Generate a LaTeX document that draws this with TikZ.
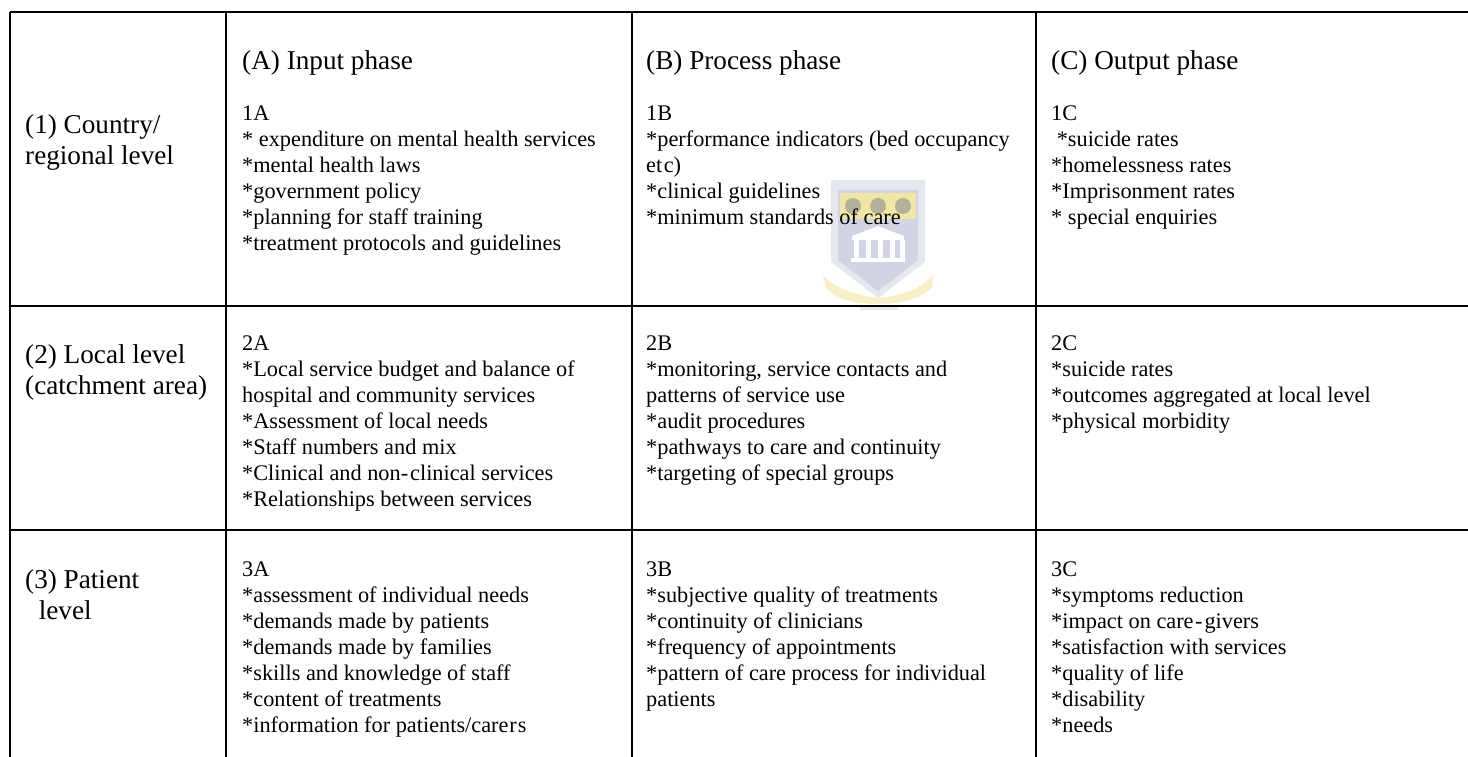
\documentclass[tikz,border=0pt]{standalone}
\usepackage{fontspec}
\setmainfont{Liberation Serif}
\definecolor{crestbody}{HTML}{D2D4E6}
\definecolor{crestedge}{HTML}{E6E8F0}
\definecolor{crestgold}{HTML}{F3E6A0}
\definecolor{crestlion}{HTML}{B5B09A}
\definecolor{crestrib}{HTML}{F8F0C4}
\tikzset{
 hd/.style={anchor=base west,inner sep=0pt,font=\fontsize{27.2}{31}\selectfont},
 lv/.style={anchor=north west,inner sep=0pt,align=left,font=\fontsize{27.2}{31}\selectfont},
 tx/.style={anchor=north west,inner sep=0pt,align=left,font=\fontsize{22.3}{25.9}\selectfont},
 rule/.style={line width=2.2pt,black}
}
\begin{document}
\begin{tikzpicture}[x=1pt,y=-1pt]
\useasboundingbox (0,0) rectangle (1468,757);
\fill[white] (0,0) rectangle (1468,757);
% crest
\fill[crestrib] (823,275) .. controls (835,290) and (860,296) .. (878,298) .. controls (900,296) and (920,290) .. (933,275) -- (932,288) .. controls (915,302) and (895,304) .. (878,304) .. controls (860,304) and (840,302) .. (826,288) -- cycle;
\fill[crestedge] (831,180) -- (925,180) -- (925,262) -- (878,298) -- (831,262) -- cycle;
\fill[crestbody] (838,190) -- (918,190) -- (918,260) -- (878,291) -- (838,260) -- cycle;
\fill[crestgold] (840,193) rectangle (916,219);
\foreach \xx in {853,878,903} \fill[crestlion] (\xx,206) circle (8);
\fill[white] (852,236) -- (878,226) -- (904,236) -- (904,240) -- (852,240) -- cycle;
\fill[white] (851,258) rectangle (905,262);
\foreach \xx in {854,866,878,890,900} \fill[white] (\xx,240) rectangle +(5,18);
\fill[crestedge] (860,306) rectangle (898,310);
% table rules
\coordinate (tl) at (10,12);
\coordinate (tr) at (1468,12);
\coordinate (ml) at (10,306);
\coordinate (mr) at (1468,306);
\coordinate (nl) at (10,530);
\coordinate (nr) at (1468,530);
\coordinate (bl) at (10,757);
\coordinate (ct) at (226,12);
\coordinate (cb) at (226,757);
\coordinate (dt) at (632,12);
\coordinate (db) at (632,757);
\coordinate (et) at (1036,12);
\coordinate (eb) at (1036,757);
\draw[rule] (tl) -- (tr);
\draw[rule] (ml) -- (mr);
\draw[rule] (nl) -- (nr);
\draw[rule] (tl) -- (bl);
\draw[rule] (ct) -- (cb);
\draw[rule] (dt) -- (db);
\draw[rule] (et) -- (eb);
\node[lv] (r1) at (25,114.5) {(1) Country/\\regional level};
\node[lv] (r2) at (25,344.5) {(2) Local level\\(catchment area)};
\node[lv] (r3) at (25,569.5) {(3) Patient\\\ \ level};
\node[hd] (ha) at (242,70) {(A) Input phase};
\node[hd] (hb) at (646,70) {(B) Process phase};
\node[hd] (hc) at (1051,70) {(C) Output phase};
\node[tx] (a1) at (242,106) {1A\\* expenditure on mental health services\\*mental health laws\\*government policy\\*planning for staff training\\*treatment protocols and guidelines};
\node[tx] (b1) at (646,106) {1B\\*performance indicators (bed occupancy\\et\kern1.5pt c)\\*clinical guidelines\\*minimum standards of care};
\node[tx] (c1) at (1051,106) {1C\\\ *suicide rates\\*homelessness rates\\*Imprisonment rates\\* special enquiries};
\node[tx] (a2) at (242,336) {2A\\*Local service budget and balance of\\hospital and community services\\*Assessment of local needs\\*Staff numbers and mix\\*Clinical and non-\kern2pt clinical services\\*Relationships between services};
\node[tx] (b2) at (646,336) {2B\\*monitoring, service contacts and\\patterns of service use\\*audit procedures\\*pathways to care and continuity\\*targeting of special groups};
\node[tx] (c2) at (1051,336) {2C\\*suicide rates\\*outcomes aggregated at local level\\*physical morbidity};
\node[tx] (a3) at (242,562) {3A\\*assessment of individual needs\\*demands made by patients\\*demands made by families\\*skills and knowledge of staff\\*content of treatments\\*information for patients/care\kern1pt r\kern1pt s};
\node[tx] (b3) at (646,562) {3B\\*subjective quality of treatments\\*continuity of clinicians\\*frequency of appointments\\*pattern of care process for individual\\patients};
\node[tx] (c3) at (1051,562) {3C\\*symptoms reduction\\*impact on care\kern1.5pt-\kern2pt givers\\*satisfaction with services\\*quality of life\\*disability\\*needs};
\end{tikzpicture}
\end{document}
